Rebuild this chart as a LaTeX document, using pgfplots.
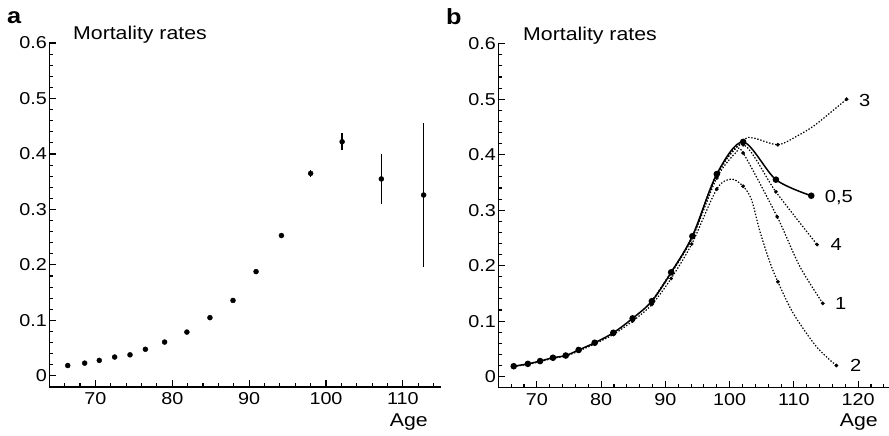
\documentclass[border=0pt]{standalone}
\usepackage{fontspec}
\setmainfont{Liberation Sans}[FakeStretch=1.15]
\usepackage{pgfplots}
\pgfplotsset{compat=1.18}
\pgfplotsset{mystyle/.style={
  scale only axis, width=392pt, height=344pt,
  axis x line=bottom, axis y line=left,
  axis line style={-, line width=1.3pt},
  tick align=inside, major tick length=7pt, minor tick length=4pt,
  every tick/.style={black, line width=1.1pt},
  ymin=-0.02, ymax=0.6,
  ytick={0,0.1,0.2,0.3,0.4,0.5,0.6},
  minor ytick={0.02,0.04,0.06,0.08,0.12,0.14,0.16,0.18,0.22,0.24,0.26,0.28,0.32,0.34,0.36,0.38,0.42,0.44,0.46,0.48,0.52,0.54,0.56,0.58},
  xtick={70,80,90,100,110,120},
  minor xtick={66,68,72,74,76,78,82,84,86,88,92,94,96,98,102,104,106,108,112,114,116,118,122,124},
  /pgf/number format/assume math mode=true,
  tick label style={font=\fontsize{17.2}{19}\selectfont},
  yticklabel style={/pgf/number format/fixed, /pgf/number format/precision=1, xshift=1pt},
  xticklabel style={yshift=-2pt},
  clip=false,
}}
\tikzset{dotcurve/.style={black, line width=1.2pt, dash pattern=on 1.4pt off 1.7pt, smooth, no markers},
  dotmarks/.style={black, only marks, mark=*, mark size=1.7pt},
  lab/.style={font=\fontsize{17.5}{19}\selectfont, anchor=west, inner sep=0pt}}
\begin{document}
\begin{tikzpicture}
\path[use as bounding box] (0,0) rectangle (889pt,-436pt);
% Panel a
\begin{axis}[mystyle, at={(49.3pt,-387pt)}, anchor=south west, xmin=64, xmax=115]
\addplot[black, only marks, mark=*, mark size=2.5pt,
  error bars/.cd, y dir=both, y explicit, error mark=none,
  error bar style={line width=1.4pt}]
  table[x=x, y=y, y error=e] {
x y e
66.4 0.0187 0
68.6 0.023 0
70.5 0.028 0
72.5 0.034 0
74.5 0.038 0
76.5 0.048 0
79.0 0.061 0
81.9 0.079 0
84.9 0.105 0
87.9 0.136 0
90.9 0.188 0
94.2 0.253 0
98.0 0.365 0.006
102.1 0.422 0.015
107.2 0.355 0.045
112.7 0.326 0.13
};
\end{axis}
% Panel b
\begin{axis}[mystyle, at={(498.3pt,-387.7pt)}, anchor=south west, xmin=64, xmax=125]
% curve 2
\addplot[dotcurve] coordinates {(66.4,0.018)(68.6,0.022)(70.5,0.027)(72.5,0.033)(74.5,0.037)(76.5,0.046)(79.0,0.059)(81.9,0.076)(84.9,0.100)(87.9,0.130)(90.9,0.177)(94.1,0.239)(98,0.338)(100.3,0.356)(102.1,0.343)(103.4,0.319)(104.7,0.262)(106.3,0.205)(107.5,0.171)(109.9,0.114)(113.5,0.054)(116.6,0.020)};
\addplot[dotmarks] coordinates {(66.4,0.018)(68.6,0.022)(70.5,0.027)(72.5,0.033)(74.5,0.037)(76.5,0.046)(79.0,0.059)(81.9,0.076)(84.9,0.100)(87.9,0.130)(90.9,0.177)(94.1,0.239)(98,0.338)(102.1,0.343)(107.5,0.171)(116.6,0.020)};
% curve 1
\addplot[dotcurve] coordinates {(87.9,0.135)(90.9,0.186)(94.2,0.250)(98,0.358)(101,0.404)(102.1,0.403)(107.4,0.288)(110.9,0.199)(114.5,0.132)};
\addplot[dotmarks] coordinates {(98,0.358)(102.1,0.403)(107.4,0.288)(114.5,0.132)};
% curve 4
\addplot[dotcurve] coordinates {(87.9,0.136)(90.9,0.188)(94.2,0.252)(98,0.362)(102.1,0.418)(107.2,0.333)(113.6,0.238)};
\addplot[dotmarks] coordinates {(98,0.362)(102.1,0.418)(107.2,0.333)(113.6,0.238)};
% curve 3
\addplot[dotcurve] coordinates {(87.9,0.136)(90.9,0.188)(94.2,0.253)(98,0.366)(102.1,0.425)(103.7,0.430)(107.5,0.418)(110.4,0.433)(113.0,0.451)(115.6,0.475)(118.2,0.500)};
\addplot[dotmarks] coordinates {(98,0.366)(102.1,0.425)(107.5,0.418)(118.2,0.500)};
% solid 0,5
\addplot[black, line width=1.5pt, smooth, mark=*, mark size=2.5pt] coordinates {(66.4,0.0187)(68.6,0.023)(70.5,0.028)(72.5,0.034)(74.5,0.038)(76.5,0.048)(79.0,0.061)(81.9,0.079)(84.9,0.105)(87.9,0.136)(90.9,0.188)(94.2,0.253)(98.0,0.365)(102.1,0.423)(107.2,0.355)(112.7,0.326)};
\node[lab] at (axis cs:120.1,0.498) {3};
\node[lab] at (axis cs:114.8,0.322) {0,5};
\node[lab] at (axis cs:115.7,0.238) {4};
\node[lab] at (axis cs:116.4,0.132) {1};
\node[lab] at (axis cs:118.7,0.020) {2};
\end{axis}
\node[anchor=base west, inner sep=0pt, font=\fontsize{18.5}{20}\selectfont] at (73pt,-40pt) {Mortality rates};
\node[anchor=base west, inner sep=0pt, font=\fontsize{18.5}{20}\selectfont] at (523pt,-40.5pt) {Mortality rates};
\node[anchor=base east, inner sep=0pt, font=\fontsize{18.5}{20}\selectfont] at (428pt,-426pt) {Age};
\node[anchor=base east, inner sep=0pt, font=\fontsize{18.5}{20}\selectfont] at (878pt,-426pt) {Age};
\node[anchor=base west, inner sep=0pt, font=\fontsize{22}{24}\selectfont\bfseries] at (7pt,-24pt) {a};
\node[anchor=base west, inner sep=0pt, font=\fontsize{22}{24}\selectfont\bfseries] at (446pt,-25pt) {b};
\end{tikzpicture}
\end{document}
